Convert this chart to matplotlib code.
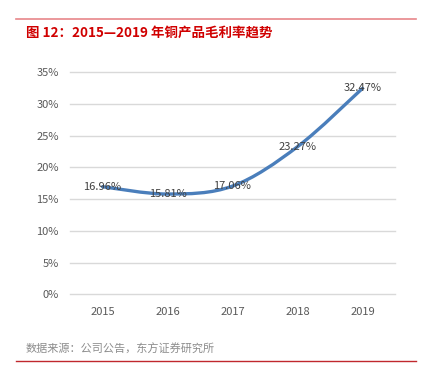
import matplotlib
matplotlib.use("Agg")
import matplotlib.pyplot as plt
from matplotlib.path import Path
from matplotlib.patches import PathPatch
from matplotlib.lines import Line2D

plt.rcParams["font.family"] = ["Noto Sans CJK SC", "DejaVu Sans"]

years = ["2015", "2016", "2017", "2018", "2019"]
margins = [16.96, 15.81, 17.06, 23.27, 32.47]
y_ticks = [0, 5, 10, 15, 20, 25, 30, 35]

TITLE = "图 12：2015—2019 年铜产品毛利率趋势"
SOURCE = "数据来源：公司公告，东方证券研究所"

fig = plt.figure(figsize=(4.27, 3.71), dpi=100)
ax = fig.add_axes([70 / 427, 1 - 294.3 / 371, 325 / 427, 222 / 371])

# smoothed line (Excel style bezier through the points)
xs = list(range(len(margins)))
pts = list(zip(xs, margins))
verts = [pts[0]]
codes = [Path.MOVETO]
for i in range(len(pts) - 1):
    p0 = pts[i - 1] if i > 0 else pts[i]
    p1 = pts[i]
    p2 = pts[i + 1]
    p3 = pts[i + 2] if i + 2 < len(pts) else pts[i + 1]
    c1 = (p1[0] + (p2[0] - p0[0]) / 6, p1[1] + (p2[1] - p0[1]) / 6)
    c2 = (p2[0] - (p3[0] - p1[0]) / 6, p2[1] - (p3[1] - p1[1]) / 6)
    verts += [c1, c2, p2]
    codes += [Path.CURVE4] * 3
ax.add_patch(PathPatch(Path(verts, codes), facecolor="none",
                       edgecolor="#4A7EBB", lw=2.4, capstyle="round", zorder=3))

for x, v in zip(xs, margins):
    ax.text(x, v, f"{v:.2f}%", ha="center", va="center", fontsize=8,
            color="#404040", zorder=4)

ax.set_xlim(-0.5, len(years) - 0.5)
ax.set_ylim(0, 35)
ax.set_xticks(xs)
ax.set_xticklabels(years)
ax.set_yticks(y_ticks)
ax.set_yticklabels([f"{t}%" for t in y_ticks])
ax.tick_params(length=0, labelsize=8, labelcolor="#595959")
ax.tick_params(axis="x", pad=9)
ax.tick_params(axis="y", pad=8)
ax.grid(axis="y", color="#D9D9D9", lw=1)
for gl in ax.get_ygridlines():
    gl.set_clip_on(False)
ax.set_axisbelow(True)
for s in ax.spines.values():
    s.set_visible(False)

fig.add_artist(Line2D([16 / 427, 416 / 427], [1 - 19 / 371] * 2,
                      color="#E8868A", lw=1.2))
fig.add_artist(Line2D([16 / 427, 416 / 427], [1 - 361 / 371] * 2,
                      color="#C0282D", lw=1))
fig.text(26 / 427, 1 - 33 / 371, TITLE, fontsize=9.7, fontweight="bold",
         color="#D00000", va="center")
fig.text(26 / 427, 1 - 349 / 371, SOURCE, fontsize=8, color="#8C8C8C",
         va="center")

fig.savefig("out.png", dpi=100)
